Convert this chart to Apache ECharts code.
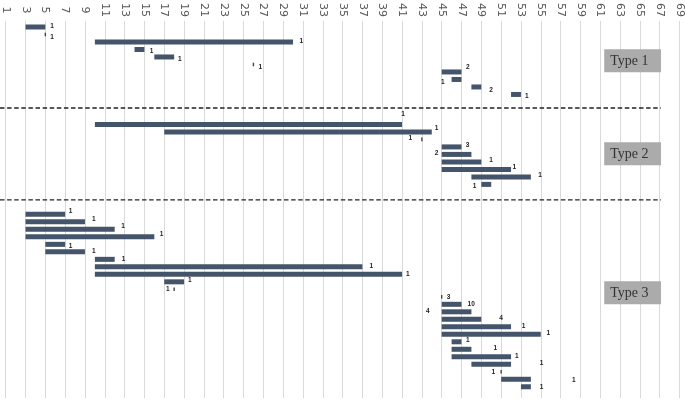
<!DOCTYPE html>
<html>
<head>
<meta charset="utf-8">
<script src="https://cdn.jsdelivr.net/npm/echarts@6/dist/echarts.min.js"></script>
<style>
html,body{margin:0;padding:0;background:#fff;}
#chart{width:685px;height:400px;}
</style>
</head>
<body>
<div id="chart"></div>
<script>
// X-axis tick labels
const tickLabels = [1,3,5,7,9,11,13,15,17,19,21,23,25,27,29,31,33,35,37,39,41,43,45,47,49,51,53,55,57,59,61,63,65,67,69];

// Bars: start, end, row (row index from top)
const barStart = [3,5,10,14,16,26,45,46,48,52,
                  10,17,43,45,45,45,45,48,49,
                  3,3,3,3,5,5,10,10,10,17,18,45,45,45,45,45,45,46,46,46,48,51,51,53];
const barEnd   = [5,5,30,15,18,26,47,47,49,53,
                  41,44,43,47,48,49,52,54,50,
                  7,9,12,16,7,9,12,37,41,19,18,45,47,48,49,52,55,47,48,52,52,51,54,54];
const barRow   = [0,1,2,3,4,5,6,7,8,9,
                  13,14,15,16,17,18,19,20,21,
                  25,26,27,28,29,30,31,32,33,34,35,36,37,38,39,40,41,42,43,44,45,46,47,48];

// Count labels: text, x value, row
const labelText = ['1','1','1','1','1','1','2','1','2','1',
                   '1','1','1','3','2','1','1','1','1',
                   '1','1','1','1','1','1','1','1','1','1','1','3','10','4','4','1','1','1','1','1','1','1','1','1'];
const labelX    = [5.67,5.67,30.84,15.72,18.57,26.7,47.63,45.11,49.99,53.58,
                   41.1,44.48,41.83,47.6,44.48,49.99,52.33,54.93,48.31,
                   7.55,9.9,12.85,16.73,7.55,9.9,12.9,37.9,41.58,19.58,17.36,45.7,47.98,43.6,51.0,53.25,55.77,47.63,50.4,52.57,55.09,50.22,58.33,55.09];
const labelRow  = [-0.13,1.37,1.87,3.2,4.3,5.37,5.3,7.37,8.4,9.29,
                   11.67,13.46,14.84,15.83,16.8,17.83,18.76,19.83,21.29,
                   24.56,25.6,26.53,27.6,29.3,29.96,30.93,31.96,32.97,33.83,34.93,36,36.93,37.96,38.84,39.87,40.8,41.83,42.84,43.87,44.87,46.09,47.07,48.0];

// Group names and the row at which each group box is centred
const typeNames = ['Type 1','Type 2','Type 3'];
const typeRows  = [4.5, 16.9, 35.47];

// Separator positions (rows)
const separatorRows = [10.8, 23.07];

const barData = barStart.map((s,i)=>[s, barEnd[i], barRow[i]]);
const labelData = labelText.map((t,i)=>[labelX[i], labelRow[i], t]);
const typeData = typeNames.map((n,i)=>[typeRows[i], n]);
const sepData = separatorRows.map(r=>[r]);

const chart = echarts.init(document.getElementById('chart'), null, {renderer:'canvas'});
const BAR = '#44546a';

const option = {
  animation: false,
  backgroundColor: '#ffffff',
  grid: {left: 5.7, right: 4.4, top: 21, bottom: 2, containLabel: false},
  xAxis: {
    type: 'value', position: 'top', min: 1, max: 69,
    axisLine: {show: false},
    axisTick: {show: false, customValues: tickLabels},
    axisLabel: {customValues: tickLabels, rotate: -90, align: 'center', verticalAlign: 'middle',
      margin: 11, color: '#555555', fontSize: 11, fontFamily: 'DejaVu Sans'},
    splitLine: {show: true, lineStyle: {color: '#d9d9d9', width: 1}}
  },
  yAxis: {
    type: 'value', inverse: true, min: -0.8, max: 49.5,
    show: false, splitLine: {show: false}
  },
  series: [
    {
      type: 'custom', data: barData, clip: false,
      encode: {x: [0,1], y: 2},
      renderItem: function(params, api){
        const s = api.value(0), e = api.value(1), r = api.value(2);
        const p0 = api.coord([s, r]), p1 = api.coord([e, r]);
        if (e === s) {
          return {type: 'rect', shape: {x: p0[0]-0.7, y: p0[1]-1.8, width: 1.4, height: 3.6}, style: {fill: '#444'}};
        }
        const h = 5;
        return {type: 'rect', shape: {x: p0[0], y: p0[1]-h/2, width: p1[0]-p0[0], height: h}, style: {fill: BAR}};
      }
    },
    {
      type: 'custom', data: labelData, clip: false,
      encode: {x: 0, y: 1},
      renderItem: function(params, api){
        const p = api.coord([api.value(0), api.value(1)]);
        return {type: 'text', x: p[0], y: p[1],
          style: {text: labelText[params.dataIndex], fill: '#222', fontSize: 6.5, fontWeight: 'bold',
            fontFamily: 'Liberation Sans', align: 'center', verticalAlign: 'middle'}};
      }
    },
    {
      type: 'custom', data: sepData, clip: false,
      encode: {y: 0},
      renderItem: function(params, api){
        const r = api.value(0);
        const p = api.coord([67.13, r]);
        return {type: 'line', shape: {x1: 0, y1: p[1], x2: p[0], y2: p[1]},
          style: {stroke: '#222', lineWidth: 1.4, lineDash: [4.5, 2.6]}};
      }
    },
    {
      type: 'custom', data: typeData, clip: false,
      encode: {y: 0},
      renderItem: function(params, api){
        const r = api.value(0);
        const pl = api.coord([61.4, r]), pr = api.coord([67.13, r]);
        const h = 23;
        return {type: 'group', children: [
          {type: 'rect', shape: {x: pl[0], y: pl[1]-h/2, width: pr[0]-pl[0], height: h}, style: {fill: '#ababab'}},
          {type: 'text', x: pl[0]+6, y: pl[1]+0.5,
            style: {text: typeNames[params.dataIndex], fill: '#333', fontSize: 14,
              fontFamily: 'Liberation Serif', align: 'left', verticalAlign: 'middle'}}
        ]};
      }
    }
  ]
};
chart.setOption(option);
</script>
</body>
</html>
